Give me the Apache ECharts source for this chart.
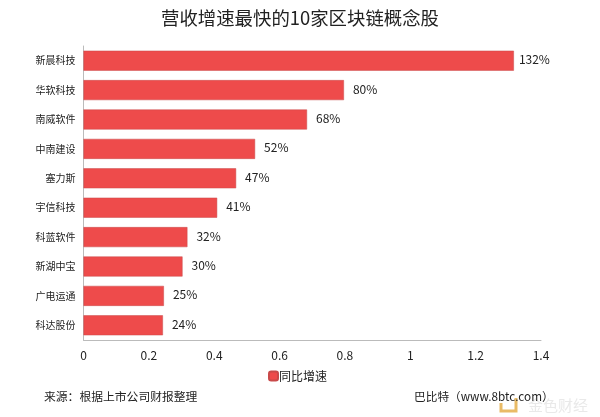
<!DOCTYPE html>
<html>
<head>
<meta charset="utf-8">
<style>
  html, body { margin: 0; padding: 0; background: #fff; }
  #chart { width: 600px; height: 417px; }
</style>
<script src="https://cdn.jsdelivr.net/npm/echarts@6/dist/echarts.min.js"></script>
</head>
<body>
<div id="chart"></div>
<script>
var categories = ['新晨科技', '华软科技', '南威软件', '中南建设', '塞力斯', '宇信科技', '科蓝软件', '新湖中宝', '广电运通', '科达股份'];
// bar lengths, the printed labels are rounded
var growth = [1.317, 0.797, 0.684, 0.525, 0.467, 0.409, 0.318, 0.303, 0.246, 0.243];
var growthLabels = ['132%', '80%', '68%', '52%', '47%', '41%', '32%', '30%', '25%', '24%'];
var seriesName = '同比增速';
var titleText = '营收增速最快的10家区块链概念股';
var sourceText = '来源：根据上市公司财报整理';
var creditText = '巴比特（www.8btc.com）';
var watermarkText = '金色财经';

var fontFamily = '"Noto Sans CJK SC", "Noto Sans", sans-serif';
var chart = echarts.init(document.getElementById('chart'));

var barData = growth.map(function (v, i) {
  // the first label sits closer to its bar
  return i === 0 ? { value: v, label: { distance: 5 } } : { value: v };
});

var option = {
  animation: false,
  textStyle: { fontFamily: fontFamily },
  title: {
    text: titleText,
    left: 'center',
    top: 4,
    textStyle: { fontSize: 18.4, fontWeight: 'normal', color: '#222', fontFamily: fontFamily }
  },
  legend: {
    data: [seriesName],
    left: 263,
    top: 365,
    itemWidth: 9,
    itemHeight: 9,
    itemGap: 2,
    icon: 'roundRect',
    textStyle: { fontSize: 12, color: '#222', fontFamily: fontFamily, padding: [0, 0, 0, -4] }
  },
  grid: { left: 83.5, right: 59, top: 46, bottom: 77 },
  xAxis: {
    type: 'value',
    min: 0,
    max: 1.4,
    interval: 0.2,
    axisLine: { show: true, lineStyle: { color: '#bbb', width: 1 } },
    axisTick: { show: false },
    splitLine: { show: false },
    axisLabel: { color: '#222', fontSize: 12, margin: 9 }
  },
  yAxis: {
    type: 'category',
    inverse: true,
    data: categories,
    axisLine: { show: true, lineStyle: { color: '#bbb', width: 1 } },
    axisTick: { show: false },
    axisLabel: { color: '#222', fontSize: 10, margin: 8 }
  },
  series: [{
    name: seriesName,
    type: 'bar',
    data: barData,
    barWidth: 20,
    itemStyle: { color: '#ee4b4b', borderColor: '#c94a4a', borderWidth: 0.5 },
    label: {
      show: true,
      position: 'right',
      distance: 9,
      offset: [0, -1],
      color: '#222',
      fontSize: 12,
      formatter: function (p) { return growthLabels[p.dataIndex]; }
    }
  }],
  graphic: [
    { type: 'polyline', shape: { points: [[501, 403], [501, 411], [516, 411], [516, 398]] }, style: { stroke: '#e9bb66', lineWidth: 3, fill: null } },
    { type: 'text', left: 528, top: 398, style: { text: watermarkText, fontSize: 15, fill: '#e9e9e9', fontFamily: fontFamily } },
    { type: 'text', left: 44, top: 391, style: { text: sourceText, fontSize: 11.8, fill: '#222', fontFamily: fontFamily } },
    { type: 'text', left: 414, top: 391, style: { text: creditText, fontSize: 11.7, fill: '#222', fontFamily: fontFamily } }
  ]
};

chart.setOption(option);
</script>
</body>
</html>
